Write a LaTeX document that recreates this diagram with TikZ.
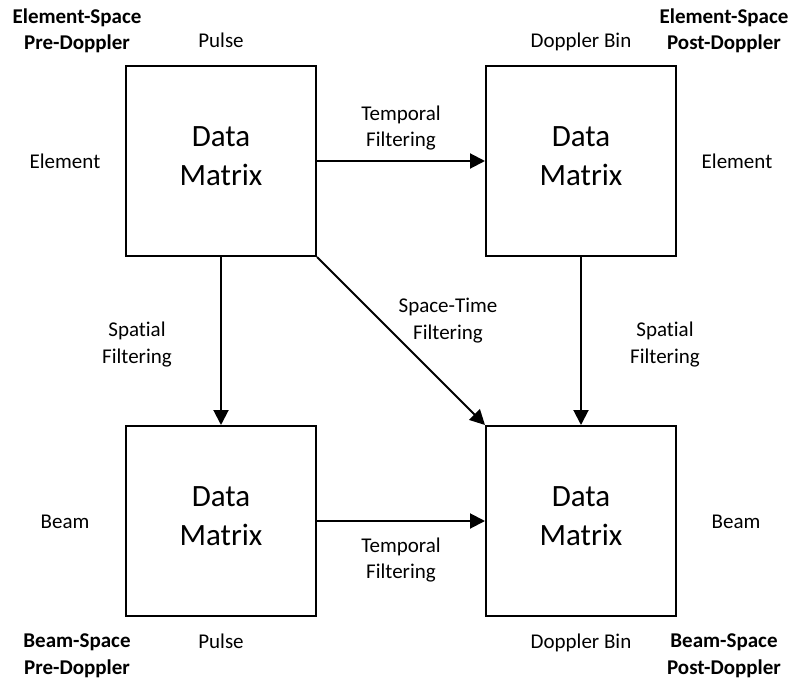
\documentclass[tikz,border=0pt]{standalone}
\usepackage{fontspec}
\setmainfont{Carlito}[Ligatures=NoCommon]
\usetikzlibrary{arrows.meta}
\begin{document}
\begin{tikzpicture}[x=1pt,y=-1pt,
  box/.style={draw,line width=2pt,minimum size=190pt,inner sep=0pt},
  big/.style={font=\fontsize{31}{38.3}\selectfont,align=center,inner sep=0pt,anchor=base},
  lbl/.style={font=\fontsize{21}{26.5}\selectfont,align=center,inner sep=0pt,anchor=base},
  bl/.style={font=\fontsize{21}{26.5}\selectfont\bfseries,align=center,inner sep=0pt,anchor=base},
  arr/.style={line width=2pt,-{Triangle[length=15pt,width=15pt]}}]
\useasboundingbox (0,0) rectangle (795,682);
% boxes
\node[box] (tl) at (221,161) {};
\node[box] (tr) at (581,161) {};
\node[box] (bl) at (221,521) {};
\node[box] (br) at (581,521) {};
% box texts (anchor = baseline of last line)
\node[big] (ttl) at (221,185) {Data\\Matrix};
\node[big] (ttr) at (581,185) {Data\\Matrix};
\node[big] (tbl) at (221,545) {Data\\Matrix};
\node[big] (tbr) at (581,545) {Data\\Matrix};
% connectors
\draw[arr] (tl.east) -- (tr.west);
\draw[arr] (bl.east) -- (br.west);
\draw[arr] (tl.south) -- (bl.north);
\draw[arr] (tr.south) -- (br.north);
\draw[arr] (tl.south east) -- (br.north west);
% corner labels
\node[bl] (espre) at (77,49.8) {Element-Space\\Pre-Doppler};
\node[bl] (espost) at (724,49.8) {Element-Space\\Post-Doppler};
\node[bl] (bspre) at (77,674.3) {Beam-Space\\Pre-Doppler};
\node[bl] (bspost) at (724,674.3) {Beam-Space\\Post-Doppler};
% axis labels
\node[lbl] (p1) at (221,48) {Pulse};
\node[lbl] (d1) at (581,48) {Doppler Bin};
\node[lbl] (e1) at (65,168.3) {Element};
\node[lbl] (e2) at (737,168.3) {Element};
\node[lbl] (b1) at (65,528.3) {Beam};
\node[lbl] (b2) at (736,528.3) {Beam};
\node[lbl] (p2) at (221,648.3) {Pulse};
\node[lbl] (d2) at (581,648.3) {Doppler Bin};
% connector labels
\node[lbl] (tf1) at (401,146.5) {Temporal\\Filtering};
\node[lbl] (tf2) at (401,578.5) {Temporal\\Filtering};
\node[lbl] (stf) at (448,339.2) {Space-Time\\Filtering};
\node[lbl] (sf1) at (137,363) {Spatial\\Filtering};
\node[lbl] (sf2) at (665,363) {Spatial\\Filtering};
\end{tikzpicture}
\end{document}
